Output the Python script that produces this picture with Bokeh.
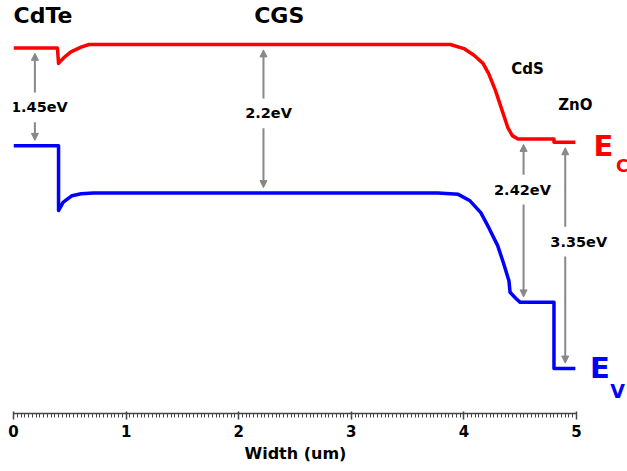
from bokeh.plotting import figure
from bokeh.models import Range1d, Arrow, NormalHead, Label, FixedTicker, Title
from bokeh.embed import file_html
from bokeh.resources import INLINE

# Band edge levels (eV, relative to CGS conduction band) and band gaps per layer
layers = ["CdTe", "CGS", "CdS", "ZnO"]
ec_level = [-0.05, 0.0, -1.40, -1.45]
gap = [1.45, 2.2, 2.42, 3.35]
ev_level = [round(c - g, 2) for c, g in zip(ec_level, gap)]

# Conduction band edge profile along the device width (um)
ec_x = [0.0, 0.39, 0.40, 0.45, 0.51, 0.60, 0.67, 3.88, 4.00, 4.09, 4.17,
        4.22, 4.28, 4.34, 4.39, 4.43, 4.48, 4.80, 4.80, 4.99]
ec_e = [ec_level[0], ec_level[0], -0.28, -0.19, -0.11, -0.04, ec_level[1],
        ec_level[1], -0.06, -0.16, -0.28, -0.43, -0.68, -0.98, -1.23, -1.35,
        ec_level[2], ec_level[2], ec_level[3], ec_level[3]]

# Valence band edge profile
ev_x = [0.0, 0.40, 0.40, 0.44, 0.52, 0.60, 0.71, 3.77, 3.95, 4.05, 4.15,
        4.22, 4.30, 4.35, 4.40, 4.41, 4.46, 4.50, 4.80, 4.80, 4.99]
ev_e = [ev_level[0], ev_level[0], -2.46, -2.34, -2.24, -2.21, ev_level[1],
        ev_level[1], -2.22, -2.31, -2.49, -2.71, -2.98, -3.23, -3.50, -3.67,
        -3.76, ev_level[2], ev_level[2], ev_level[3], ev_level[3]]

# Where each band-gap arrow sits (um) and where its label goes
gap_arrow_x = [0.19, 2.22, 4.53, 4.90]
gap_label_x = [0.23, 2.265, 4.52, 5.02]
gap_label_e = [-0.93, -1.02, -2.15, -2.92]

FONT = "DejaVu Sans"
GREY = "#888888"
AXIS_GREY = "#444444"

# The frame runs past x = 5 so the side labels have room; the axis stops at 5.
p = figure(frame_width=614, frame_height=413,
           x_range=Range1d(0, 5.453), y_range=Range1d(-5.467, 0.652),
           output_backend="svg", toolbar_location=None,
           min_border_left=13, min_border_right=0,
           min_border_top=0, min_border_bottom=20)

p.outline_line_color = None
p.xgrid.visible = False
p.ygrid.visible = False
p.yaxis.visible = False
p.background_fill_color = "white"
p.border_fill_color = "white"

ax = p.xaxis[0]
ax.bounds = (0, 5)
ax.ticker = FixedTicker(ticks=[0, 1, 2, 3, 4, 5],
                        minor_ticks=[i / 30 for i in range(0, 151)])
ax.major_label_text_font = FONT
ax.major_label_text_font_style = "bold"
ax.major_label_text_font_size = "15px"
ax.major_label_text_color = "black"
ax.major_label_standoff = 5
ax.axis_line_color = AXIS_GREY
ax.axis_line_width = 1.5
ax.major_tick_line_color = AXIS_GREY
ax.major_tick_line_width = 1.5
ax.major_tick_out = 6
ax.major_tick_in = 2
ax.minor_tick_line_color = AXIS_GREY
ax.minor_tick_out = 4
ax.minor_tick_in = 0

# Axis title, centred under the 0-5 um span of the axis
p.add_layout(Title(text="Width (um)", align="left", offset=231,
                   text_font=FONT, text_font_style="bold",
                   text_font_size="16px", text_color="black",
                   standoff=4), "below")

# Band edges
p.line(ec_x, ec_e, line_color="#ff0000", line_width=3.5, line_join="round")
p.line(ev_x, ev_e, line_color="#0000ff", line_width=3.5, line_join="round")

# Gap arrows, split around their labels
half_gap = 0.22
tip_gap = 0.08
layer_of_arrow = [0, 1, 2, 3]
for i, li in enumerate(layer_of_arrow):
    x = gap_arrow_x[i]
    ly = gap_label_e[i]
    p.add_layout(Arrow(end=NormalHead(size=7, fill_color=GREY, line_color=GREY),
                       x_start=x, y_start=ly + half_gap,
                       x_end=x, y_end=ec_level[li] - tip_gap,
                       line_color=GREY, line_width=2))
    p.add_layout(Arrow(end=NormalHead(size=7, fill_color=GREY, line_color=GREY),
                       x_start=x, y_start=ly - half_gap,
                       x_end=x, y_end=ev_level[li] + tip_gap,
                       line_color=GREY, line_width=2))
    p.add_layout(Label(x=gap_label_x[i], y=ly, text=f"{gap[li]}eV",
                       text_font=FONT, text_font_style="bold",
                       text_font_size="14.5px", text_align="center",
                       text_baseline="middle", text_color="black"))

# Layer names
p.add_layout(Label(x=0.0, y=0.43, text=layers[0], text_font=FONT,
                   text_font_style="bold", text_font_size="22px",
                   text_color="black", text_align="left", text_baseline="middle"))
p.add_layout(Label(x=2.36, y=0.43, text=layers[1], text_font=FONT,
                   text_font_style="bold", text_font_size="22px",
                   text_color="black", text_align="center", text_baseline="middle"))
p.add_layout(Label(x=4.565, y=-0.356, text=layers[2], text_font=FONT,
                   text_font_style="bold", text_font_size="15px",
                   text_color="black", text_align="center", text_baseline="middle"))
p.add_layout(Label(x=4.99, y=-0.90, text=layers[3], text_font=FONT,
                   text_font_style="bold", text_font_size="15px",
                   text_color="black", text_align="center", text_baseline="middle"))

# Band edge names with subscripts
p.add_layout(Label(x=5.15, y=-1.51, text="E", text_font=FONT,
                   text_font_style="bold", text_font_size="29px",
                   text_color="#ff0000", text_align="left", text_baseline="middle"))
p.add_layout(Label(x=5.35, y=-1.80, text="C", text_font=FONT,
                   text_font_style="bold", text_font_size="17px",
                   text_color="#ff0000", text_align="left", text_baseline="middle"))
p.add_layout(Label(x=5.12, y=-4.80, text="E", text_font=FONT,
                   text_font_style="bold", text_font_size="29px",
                   text_color="#0000ff", text_align="left", text_baseline="middle"))
p.add_layout(Label(x=5.30, y=-5.13, text="V", text_font=FONT,
                   text_font_style="bold", text_font_size="19px",
                   text_color="#0000ff", text_align="left", text_baseline="middle"))

open("out.html", "w").write(file_html(p, INLINE))
